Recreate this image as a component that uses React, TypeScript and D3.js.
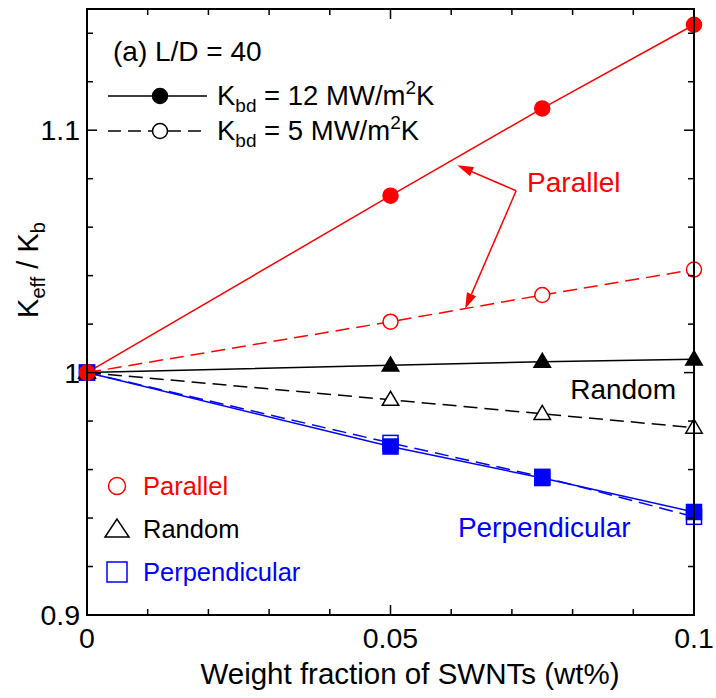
import React from "react";
import * as d3 from "d3";

const weightFractions = [0, 0.05, 0.075, 0.1];
const parallel12 = [1.0, 1.073, 1.109, 1.1435];
const parallel5 = [1.0, 1.021, 1.032, 1.0425];
const random12 = [1.0, 1.003, 1.0045, 1.0055];
const random5 = [1.0, 0.9888, 0.983, 0.9773];
const perp12 = [1.0, 0.9695, 0.9565, 0.9425];
const perp5 = [1.0, 0.971, 0.957, 0.9405];

const xMajorTicks = [0, 0.05, 0.1];
const xTickLabels = ["0", "0.05", "0.1"];
const yMajorTicks = [0.9, 1.0, 1.1];
const yTickLabels = ["0.9", "1", "1.1"];

const W = 716;
const H = 698;
const FONT = "'Liberation Sans', Arial, Helvetica, sans-serif";
const RED = "#ff0000";
const BLUE = "#0000ff";
const BLACK = "#000000";

type Series = {
  values: number[];
  color: string;
  dashed: boolean;
  shape: "circle" | "triangle" | "square";
  filled: boolean;
};

const series: Series[] = [
  { values: perp5, color: BLUE, dashed: true, shape: "square", filled: false },
  { values: perp12, color: BLUE, dashed: false, shape: "square", filled: true },
  { values: random5, color: BLACK, dashed: true, shape: "triangle", filled: false },
  { values: random12, color: BLACK, dashed: false, shape: "triangle", filled: true },
  { values: parallel5, color: RED, dashed: true, shape: "circle", filled: false },
  { values: parallel12, color: RED, dashed: false, shape: "circle", filled: true },
];

function Marker({ shape, cx, cy, color, filled, size }: { shape: string; cx: number; cy: number; color: string; filled: boolean; size: number }) {
  const fill = filled ? color : "#ffffff";
  if (shape === "circle") {
    return <circle cx={cx} cy={cy} r={size / 2} fill={fill} stroke={color} strokeWidth={1.5} />;
  }
  if (shape === "square") {
    const s = size;
    return <rect x={cx - s / 2} y={cy - s / 2} width={s} height={s} fill={fill} stroke={color} strokeWidth={1.5} />;
  }
  const s = size * 1.1;
  const h = s * 0.85;
  const pts = `${cx},${cy - h * 0.6} ${cx - s / 2},${cy + h * 0.4} ${cx + s / 2},${cy + h * 0.4}`;
  return <polygon points={pts} fill={fill} stroke={color} strokeWidth={1.5} />;
}

export default function App() {
  const x = d3.scaleLinear().domain([0, 0.1]).range([87, 694]);
  const y = d3.scaleLinear().domain([0.9, 1.15]).range([615, 9]);
  const line = d3
    .line<number>()
    .x((_, i) => x(weightFractions[i]))
    .y((d) => y(d));

  const xMinor = d3.range(0, 0.1001, 0.01);
  const yMinor = d3.range(0.9, 1.1501, 0.02);

  // annotation anchors (data units)
  const arrowFrom = { x: x(0.0707), y: y(1.075) };
  const arrowTips = [
    { x: x(0.061), y: y(1.0855) },
    { x: x(0.0623), y: y(1.0263) },
  ];

  const arrowHead = (from: { x: number; y: number }, tip: { x: number; y: number }) => {
    const dx = tip.x - from.x;
    const dy = tip.y - from.y;
    const len = Math.sqrt(dx * dx + dy * dy);
    const ux = dx / len;
    const uy = dy / len;
    const L = 16;
    const Wd = 5;
    const bx = tip.x - ux * L;
    const by = tip.y - uy * L;
    return {
      pts: `${tip.x},${tip.y} ${bx - uy * Wd},${by + ux * Wd} ${bx + uy * Wd},${by - ux * Wd}`,
      bx,
      by,
    };
  };

  return (
    <svg width={W} height={H} style={{ position: "absolute", left: 0, top: 0, background: "#fff" }} fontFamily={FONT}>
      {/* data lines */}
      {series.map((s, i) => (
        <path
          key={"l" + i}
          d={line(s.values) || ""}
          fill="none"
          stroke={s.color}
          strokeWidth={1.5}
          strokeDasharray={s.dashed ? "14,7" : undefined}
        />
      ))}
      {series.map((s, i) =>
        s.values.map((v, j) => (
          <Marker
            key={"m" + i + "-" + j}
            shape={s.shape}
            cx={x(weightFractions[j])}
            cy={y(v)}
            color={s.color}
            filled={s.filled}
            size={15}
          />
        ))
      )}

      {/* frame */}
      <rect x={x(0)} y={y(1.15)} width={x(0.1) - x(0)} height={y(0.9) - y(1.15)} fill="none" stroke="#000" strokeWidth={2} />

      {/* x ticks */}
      {xMinor.map((t, i) => {
        const major = xMajorTicks.some((m) => Math.abs(m - t) < 1e-9);
        const len = major ? 10 : 6;
        return (
          <g key={"xt" + i}>
            <line x1={x(t)} x2={x(t)} y1={y(0.9)} y2={y(0.9) - len} stroke="#000" strokeWidth={1.5} />
            <line x1={x(t)} x2={x(t)} y1={y(1.15)} y2={y(1.15) + len} stroke="#000" strokeWidth={1.5} />
          </g>
        );
      })}
      {/* y ticks */}
      {yMinor.map((t, i) => {
        const major = yMajorTicks.some((m) => Math.abs(m - t) < 1e-9);
        const len = major ? 10 : 6;
        return (
          <g key={"yt" + i}>
            <line x1={x(0)} x2={x(0) + len} y1={y(t)} y2={y(t)} stroke="#000" strokeWidth={1.5} />
            <line x1={x(0.1)} x2={x(0.1) - len} y1={y(t)} y2={y(t)} stroke="#000" strokeWidth={1.5} />
          </g>
        );
      })}

      {/* tick labels */}
      {xMajorTicks.map((t, i) => (
        <text key={"xl" + i} x={x(t)} y={648} textAnchor="middle" fontSize={28.5} fill="#000">
          {xTickLabels[i]}
        </text>
      ))}
      {yMajorTicks.map((t, i) => (
        <text key={"yl" + i} x={80} y={y(t) + 10} textAnchor="end" fontSize={28.5} fill="#000">
          {yTickLabels[i]}
        </text>
      ))}

      {/* axis titles */}
      <text x={410} y={684} textAnchor="middle" fontSize={29.5} fill="#000">
        Weight fraction of SWNTs (wt%)
      </text>
      <text transform="translate(38,270) rotate(-90)" textAnchor="middle" fontSize={29} fill="#000">
        K<tspan fontSize={20} dy={7}>eff</tspan>
        <tspan dy={-7}> / K</tspan>
        <tspan fontSize={20} dy={7}>b</tspan>
      </text>

      {/* top-left legend */}
      <text x={113} y={61} fontSize={28} fill="#000">(a) L/D = 40</text>
      <line x1={108} x2={207} y1={96} y2={96} stroke="#000" strokeWidth={1.5} />
      <circle cx={160} cy={96} r={7.5} fill="#000" stroke="#000" strokeWidth={1.5} />
      <text x={217} y={105} fontSize={27.5} fill="#000">
        K<tspan fontSize={19} dy={7}>bd</tspan>
        <tspan dy={-7}> = 12 MW/m</tspan>
        <tspan fontSize={19} dy={-11}>2</tspan>
        <tspan dy={11}>K</tspan>
      </text>
      <line x1={108} x2={207} y1={131} y2={131} stroke="#000" strokeWidth={1.5} strokeDasharray="13,7" />
      <circle cx={160} cy={131} r={7.5} fill="#fff" stroke="#000" strokeWidth={1.5} />
      <text x={217} y={140} fontSize={27.5} fill="#000">
        K<tspan fontSize={19} dy={7}>bd</tspan>
        <tspan dy={-7}> = 5 MW/m</tspan>
        <tspan fontSize={19} dy={-11}>2</tspan>
        <tspan dy={11}>K</tspan>
      </text>

      {/* bottom-left legend */}
      <circle cx={117} cy={486} r={8.5} fill="#fff" stroke={RED} strokeWidth={1.5} />
      <text x={143} y={495} fontSize={25.5} fill={RED}>Parallel</text>
      <polygon points="117,519 105,537 129,537" fill="#fff" stroke={BLACK} strokeWidth={1.5} />
      <text x={143} y={538} fontSize={25.5} fill={BLACK}>Random</text>
      <rect x={107} y={562} width={20} height={20} fill="#fff" stroke={BLUE} strokeWidth={1.5} />
      <text x={143} y={581} fontSize={25.5} fill={BLUE}>Perpendicular</text>

      {/* annotations */}
      <text x={x(0.0725)} y={y(1.0747)} fontSize={28} fill={RED}>Parallel</text>
      {arrowTips.map((tip, i) => {
        const h = arrowHead(arrowFrom, tip);
        return (
          <g key={"ar" + i}>
            <line x1={arrowFrom.x} y1={arrowFrom.y} x2={h.bx} y2={h.by} stroke={RED} strokeWidth={1.5} />
            <polygon points={h.pts} fill={RED} />
          </g>
        );
      })}
      <text x={x(0.0796)} y={y(0.9893)} fontSize={28} fill={BLACK}>Random</text>
      <text x={x(0.0611)} y={y(0.9323)} fontSize={28} fill={BLUE}>Perpendicular</text>
    </svg>
  );
}
